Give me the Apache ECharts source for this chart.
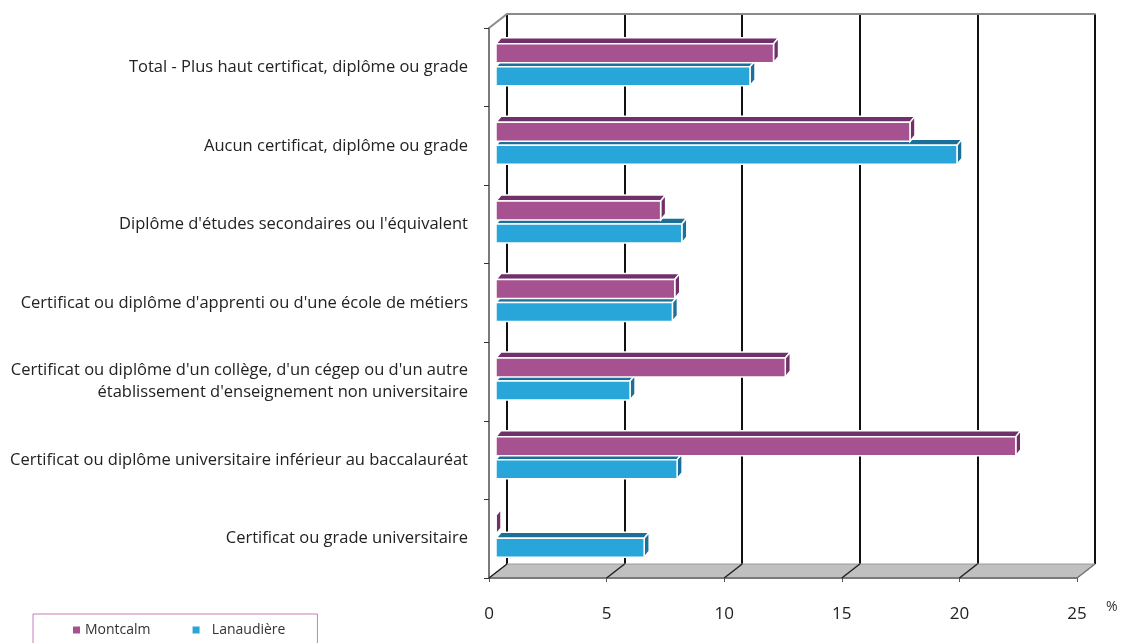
<!DOCTYPE html>
<html>
<head>
<meta charset="utf-8">
<script src="https://cdn.jsdelivr.net/npm/echarts@6/dist/echarts.min.js"></script>
<style>
  html, body { margin: 0; padding: 0; background: #fff; }
  #chart { width: 1121px; height: 643px; }
</style>
</head>
<body>
<div id="chart"></div>
<script>
// Données (en %)
const categories = [
  "Total - Plus haut certificat, diplôme ou grade",
  "Aucun certificat, diplôme ou grade",
  "Diplôme d'études secondaires ou l'équivalent",
  "Certificat ou diplôme d'apprenti ou d'une école de métiers",
  "Certificat ou diplôme d'un collège, d'un cégep ou d'un autre\nétablissement d'enseignement non universitaire",
  "Certificat ou diplôme universitaire inférieur au baccalauréat",
  "Certificat ou grade universitaire"
];
const montcalm = [11.8, 17.6, 7.0, 7.6, 12.3, 22.1, 0];
const lanaudiere = [10.8, 19.6, 7.9, 7.5, 5.7, 7.7, 6.3];
const xTicks = [0, 5, 10, 15, 20, 25];

const FONT = "Open Sans";
const DX = 18, DY = -14; // profondeur du mur du fond

const chart = echarts.init(document.getElementById("chart"));

// barre "3D" : face avant + dessus + côté
function barre(decalage, couleur, sombre) {
  return function (params, api) {
    const v = api.value(0), c = api.value(1);
    const p0 = api.coord([0, c]);
    const p1 = api.coord([v, c]);
    const x0 = p0[0] + 7, x1 = p1[0] + 7;
    const yc = p0[1] + decalage;
    const h = 19, dx = 5, dy = -6;
    const yT = yc - h / 2, yB = yc + h / 2;
    const trait = { stroke: "#fff", lineWidth: 1.5 };
    return {
      type: "group",
      children: [
        { type: "polygon", shape: { points: [[x0, yT], [x0 + dx, yT + dy], [x1 + dx, yT + dy], [x1, yT]] },
          style: Object.assign({ fill: sombre }, trait) },
        { type: "polygon", shape: { points: [[x1, yT], [x1 + dx, yT + dy], [x1 + dx, yB + dy], [x1, yB]] },
          style: Object.assign({ fill: sombre }, trait) },
        { type: "rect", shape: { x: x0, y: yT, width: Math.max(x1 - x0, 0), height: h },
          style: Object.assign({ fill: couleur }, trait) }
      ]
    };
  };
}

chart.setOption({
  animation: false,
  textStyle: { fontFamily: FONT },
  grid: [
    { left: 489, top: 28, right: 44, bottom: 65 },
    { left: 489 + DX, top: 28 + DY, right: 44 - DX, bottom: 65 - DY }
  ],
  legend: {
    data: ["Montcalm", "Lanaudière"],
    left: 33, top: 614,
    icon: "rect", itemWidth: 7, itemHeight: 7, itemGap: 42,
    padding: [9, 32, 12, 40],
    borderColor: "#c77fbf", borderWidth: 1,
    formatter: name => name === "Lanaudière" ? "  " + name : name,
    textStyle: { fontFamily: FONT, fontSize: 14, color: "#333" }
  },
  xAxis: [
    {
      gridIndex: 0, type: "value", min: 0, max: 25, interval: 5,
      axisLine: { show: true, lineStyle: { color: "#7a7a7a", width: 2 } },
      axisTick: { show: true, length: 4, lineStyle: { color: "#555" } },
      axisLabel: { margin: 28, fontSize: 17, color: "#222", fontFamily: FONT },
      splitLine: { show: false },
      name: "%", nameLocation: "end", nameGap: 29,
      nameTextStyle: { fontSize: 14, color: "#333", verticalAlign: "top", padding: [22, 0, 0, 0] }
    },
    {
      gridIndex: 1, type: "value", min: 0, max: 25, interval: 5, position: "top",
      axisLine: { show: true, lineStyle: { color: "#8a8a8a", width: 2 } },
      axisTick: { show: false }, axisLabel: { show: false },
      splitLine: { show: true, lineStyle: { color: "#111", width: 2 } }
    }
  ],
  yAxis: [
    {
      gridIndex: 0, type: "category", data: categories, inverse: true,
      axisLine: { show: true, lineStyle: { color: "#7a7a7a", width: 2 } },
      axisTick: { show: true, length: 5, lineStyle: { color: "#333" } },
      axisLabel: { margin: 21, fontSize: 16.5, color: "#222", fontFamily: FONT, lineHeight: 22, align: "right" }
    },
    { gridIndex: 1, type: "category", data: categories, inverse: true, show: false }
  ],
  series: [
    {
      name: "Lanaudière", type: "custom", xAxisIndex: 0, yAxisIndex: 0, z: 3,
      itemStyle: { color: "#28a6da" },
      encode: { x: 0, y: 1 },
      renderItem: barre(9, "#28a6da", "#1b6f99"),
      data: lanaudiere.map((v, i) => [v, i])
    },
    {
      name: "Montcalm", type: "custom", xAxisIndex: 0, yAxisIndex: 0, z: 4,
      itemStyle: { color: "#a65190" },
      encode: { x: 0, y: 1 },
      renderItem: barre(-14, "#a65190", "#70306a"),
      data: montcalm.map((v, i) => [v, i])
    }
  ]
});

// plancher gris et arêtes
const fx = v => chart.convertToPixel({ xAxisIndex: 0 }, v);
const yBas = chart.getHeight() - 65;
const yHaut = 28;
const elements = [
  {
    type: "polygon", z: 0,
    shape: { points: [[fx(0), yBas], [fx(0) + DX, yBas + DY], [fx(25) + DX, yBas + DY], [fx(25), yBas]] },
    style: { fill: "#c0c0c0", stroke: "#9a9a9a", lineWidth: 1 }
  },
  {
    type: "line", z: 1,
    shape: { x1: fx(0), y1: yHaut, x2: fx(0) + DX, y2: yHaut + DY },
    style: { stroke: "#8a8a8a", lineWidth: 2 }
  }
];
xTicks.forEach(t => {
  elements.push({
    type: "line", z: 1,
    shape: { x1: fx(t), y1: yBas, x2: fx(t) + DX, y2: yBas + DY },
    style: { stroke: t === 25 ? "#777" : "#222", lineWidth: 1.5 }
  });
});
chart.setOption({ graphic: elements });
</script>
</body>
</html>
